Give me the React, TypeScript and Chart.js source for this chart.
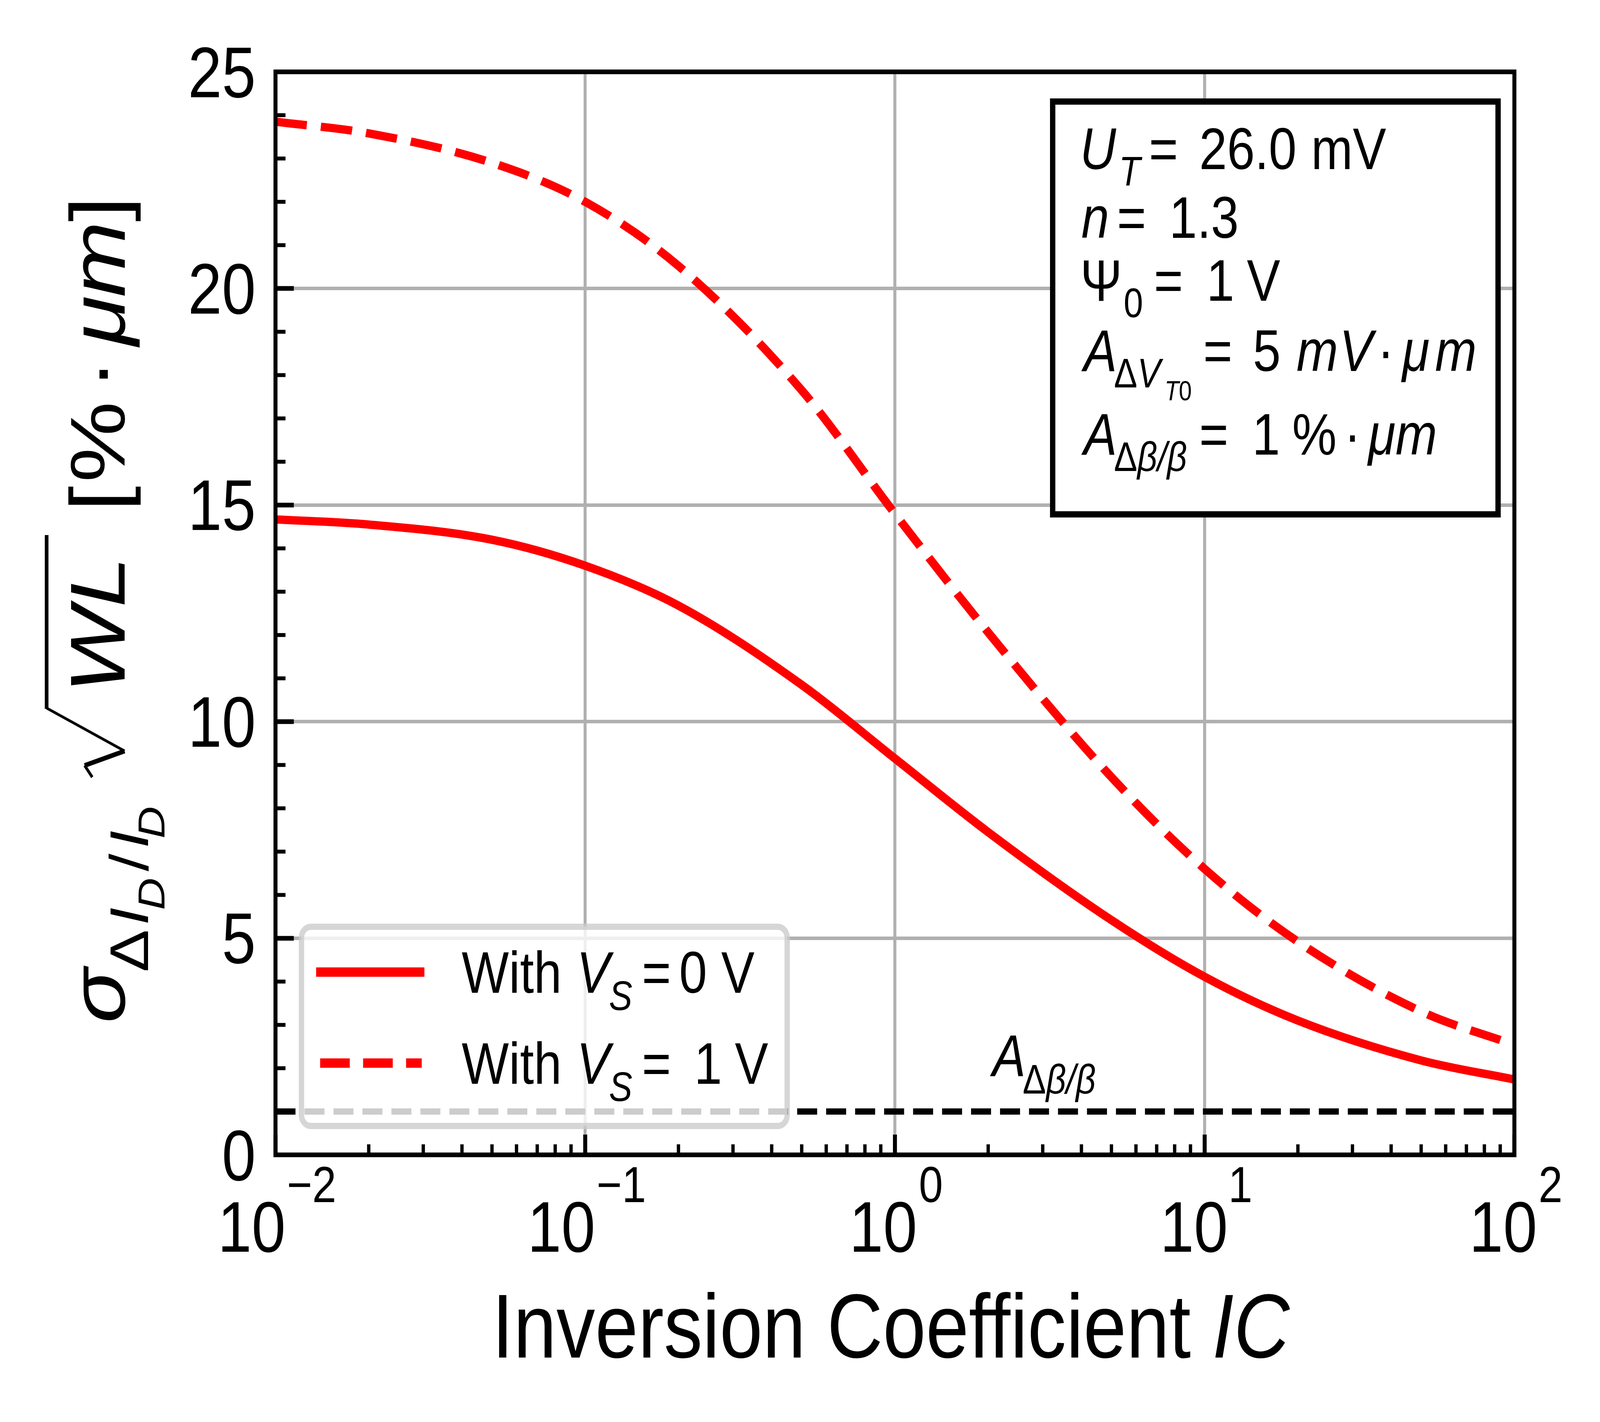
import { useEffect, useRef } from "react";
import Chart from "chart.js/auto";

// design frame (reference image size)
const W = 4803;
const H = 3641;

// inversion coefficient samples (log axis)
const icValues = [0.01, 0.02, 0.05, 0.1, 0.2, 0.5, 1, 2, 5, 10, 20, 50, 100];
// sigma(dID/ID) * sqrt(WL)  [% um]
const sigmaVs0 = [14.67, 14.55, 14.2, 13.6, 12.68, 10.85, 9.15, 7.45, 5.42, 4.11, 3.1, 2.18, 1.74];
const sigmaVs1 = [23.85, 23.58, 22.9, 22.0, 20.52, 17.65, 14.8, 12.06, 8.72, 6.6, 4.92, 3.31, 2.54];
const aBetaLevel = 1;
const xRange = [0.01, 100];
const yRange = [0, 25];
const yTickStep = 5;
const yMinorStep = 1;
const xTickExps = [-2, -1, 0, 1, 2];

const RED = "#ff0000";
const FAM = '"Liberation Sans", Arial, sans-serif';
const fnt = (size: number, italic = false) => `${italic ? "italic " : ""}${size}px ${FAM}`;

if (typeof document !== "undefined") {
  document.body.style.margin = "0";
  document.body.style.overflow = "hidden";
}

// draw text so that its ink starts at x
function ink(ctx: CanvasRenderingContext2D, text: string, x: number, y: number, size: number, italic = false) {
  ctx.font = fnt(size, italic);
  const m = ctx.measureText(text);
  ctx.fillText(text, x + m.actualBoundingBoxLeft, y);
  return x + m.actualBoundingBoxLeft + m.width;
}

// consecutive runs [text, size, italic, dy]
function runs(ctx: CanvasRenderingContext2D, x: number, y: number, parts: [string, number, boolean, number][]) {
  let cx = x;
  parts.forEach(([t, s, it, dy], i) => {
    ctx.font = fnt(s, it);
    const m = ctx.measureText(t);
    if (i === 0) cx += m.actualBoundingBoxLeft;
    ctx.fillText(t, cx, y + dy);
    cx += m.width;
  });
  return cx;
}

function seg(ctx: CanvasRenderingContext2D, x1: number, y1: number, x2: number, y2: number) {
  ctx.beginPath();
  ctx.moveTo(x1, y1);
  ctx.lineTo(x2, y2);
  ctx.stroke();
}

const makeDecor = (kx: number, ky: number) => ({
  id: "decor",
  afterDatasetsDraw(chart: any) {
    const ctx: CanvasRenderingContext2D = chart.ctx;
    const ca = chart.chartArea;
    const left = ca.left / kx;
    const right = ca.right / kx;
    const top = ca.top / ky;
    const bottom = ca.bottom / ky;
    const xs = chart.scales.x;
    const ys = chart.scales.y;
    const px = (v: number) => xs.getPixelForValue(v) / kx;
    const py = (v: number) => ys.getPixelForValue(v) / ky;
    ctx.save();
    ctx.scale(kx, ky);
    ctx.strokeStyle = "#000";
    ctx.fillStyle = "#000";
    ctx.lineCap = "butt";

    // inward ticks, left and bottom only
    for (let v = yRange[0]; v <= yRange[1]; v += yMinorStep) {
      const major = v % yTickStep === 0;
      ctx.lineWidth = major ? 12 : 10;
      seg(ctx, left, py(v), left + (major ? 55 : 30), py(v));
    }
    xTickExps.forEach((e) => {
      ctx.lineWidth = 12;
      seg(ctx, px(10 ** e), bottom, px(10 ** e), bottom - 52);
      if (e < xTickExps[xTickExps.length - 1]) {
        for (let m = 2; m <= 9; m++) {
          ctx.lineWidth = 10;
          seg(ctx, px(m * 10 ** e), bottom, px(m * 10 ** e), bottom - 27);
        }
      }
    });

    // spines
    ctx.lineWidth = 12;
    ctx.strokeRect(left, top, right - left, bottom - top);

    // y tick labels
    ctx.textAlign = "left";
    ctx.textBaseline = "alphabetic";
    for (let v = yRange[0]; v <= yRange[1]; v += yTickStep) {
      ctx.font = fnt(183);
      const t = String(v);
      const m = ctx.measureText(t);
      ctx.fillText(t, 761 - m.actualBoundingBoxRight, py(v) + m.actualBoundingBoxAscent / 2);
    }

    // x tick labels 10^e
    xTickExps.forEach((e) => {
      const sup = e < 0 ? "\u2212" + Math.abs(e) : String(e);
      ctx.font = fnt(183);
      const mb = ctx.measureText("10");
      const wb = mb.actualBoundingBoxLeft + mb.actualBoundingBoxRight;
      ctx.font = fnt(130);
      const ms = ctx.measureText(sup);
      const ws = ms.actualBoundingBoxLeft + ms.actualBoundingBoxRight;
      const x0 = px(10 ** e) + 8 - (wb + 17 + ws) / 2;
      ink(ctx, "10", x0, 3205, 183);
      ink(ctx, sup, x0 + wb + 17, 3078, 130);
    });

    // x axis title
    runs(ctx, 1498, 3476, [
      ["Inversion Coefficient ", 232, false, 0],
      ["IC", 232, true, 0],
    ]);

    // y axis title (rotated)
    ctx.save();
    ctx.translate(374, 2613);
    ctx.rotate(-Math.PI / 2);
    ink(ctx, "\u03c3", 0, 0, 233, true);
    ink(ctx, "\u0394", 128, 70, 163);
    ink(ctx, "I", 250, 70, 163, true);
    ink(ctx, "D", 286, 120, 114, true);
    ink(ctx, "/", 382, 70, 163);
    ink(ctx, "I", 447, 70, 163, true);
    ink(ctx, "D", 469, 120, 114, true);
    ctx.lineWidth = 8;
    seg(ctx, 623, -97, 653, -120);
    ctx.lineWidth = 12;
    seg(ctx, 653, -120, 690, 0);
    ctx.lineWidth = 7;
    seg(ctx, 690, 0, 800, -234);
    ctx.lineWidth = 11;
    seg(ctx, 798, -234, 1243, -234);
    ink(ctx, "WL", 858, 0, 233, true);
    ink(ctx, "[", 1320, 0, 233);
    ink(ctx, "%", 1386, 0, 233);
    ink(ctx, "\u00b7", 1643, 0, 233);
    ink(ctx, "\u03bc", 1723, 0, 233, true);
    ink(ctx, "m", 1855, 0, 233, true);
    ink(ctx, "]", 2046, 0, 233);
    ctx.restore();

    // parameter box
    ctx.fillStyle = "#fff";
    ctx.fillRect(3160, 260, 4497 - 3160, 1317 - 260);
    ctx.lineWidth = 16;
    ctx.strokeStyle = "#000";
    ctx.strokeRect(3160, 260, 4497 - 3160, 1317 - 260);
    ctx.fillStyle = "#000";
    ink(ctx, "U", 3253, 433, 150, true);
    ink(ctx, "T", 3368, 475, 105, true);
    ink(ctx, "=", 3456, 433, 150);
    ink(ctx, "26.0", 3607, 433, 150);
    ink(ctx, "mV", 3945, 433, 150);

    ink(ctx, "n", 3248, 609, 150, true);
    ink(ctx, "=", 3360, 609, 150);
    ink(ctx, "1.3", 3521, 609, 150);

    ink(ctx, "\u03a8", 3253, 770, 150);
    ink(ctx, "0", 3377, 812, 105);
    ink(ctx, "=", 3471, 770, 150);
    ink(ctx, "1", 3633, 770, 150);
    ink(ctx, "V", 3743, 770, 150);

    ink(ctx, "A", 3245, 950, 150, true);
    runs(ctx, 3347, 992, [
      ["\u0394", 105, false, 0],
      ["V", 105, true, 0],
    ]);
    runs(ctx, 3502, 1025, [
      ["T", 70, true, 0],
      ["0", 70, false, 0],
    ]);
    ink(ctx, "=", 3619, 950, 150);
    ink(ctx, "5", 3767, 950, 150);
    ink(ctx, "m", 3894, 950, 150, true);
    ink(ctx, "V", 4033, 950, 150, true);
    ink(ctx, "\u00b7", 4152, 950, 150);
    ink(ctx, "\u03bc", 4205, 950, 150, true);
    ink(ctx, "m", 4310, 950, 150, true);

    ink(ctx, "A", 3245, 1164, 150, true);
    runs(ctx, 3347, 1206, [
      ["\u0394", 105, false, 0],
      ["\u03b2/\u03b2", 105, true, 0],
    ]);
    ink(ctx, "=", 3607, 1164, 150);
    ink(ctx, "1", 3770, 1164, 150);
    ink(ctx, "%", 3884, 1164, 150);
    ink(ctx, "\u00b7", 4052, 1164, 150);
    ink(ctx, "\u03bcm", 4103, 1164, 150, true);

    // A_dB/B label above the reference line
    ink(ctx, "A", 2971, 2755, 150, true);
    runs(ctx, 3073, 2800, [
      ["\u0394", 105, false, 0],
      ["\u03b2/\u03b2", 105, true, 0],
    ]);

    // legend
    ctx.beginPath();
    ctx.roundRect(905, 2373, 2363 - 905, 2883 - 2373, 28);
    ctx.fillStyle = "rgba(255,255,255,0.8)";
    ctx.fill();
    ctx.lineWidth = 16;
    ctx.strokeStyle = "rgba(204,204,204,0.8)";
    ctx.stroke();

    ctx.strokeStyle = RED;
    ctx.lineWidth = 24;
    seg(ctx, 949, 2489, 1274, 2489);
    ctx.setLineDash([89, 40]);
    seg(ctx, 961, 2722, 1266, 2722);
    ctx.setLineDash([]);

    ctx.fillStyle = "#000";
    ink(ctx, "With", 1386, 2542, 150);
    ink(ctx, "V", 1743, 2542, 150, true);
    ink(ctx, "S", 1830, 2586, 105, true);
    ink(ctx, "=", 1934, 2542, 150);
    ink(ctx, "0", 2044, 2542, 150);
    ink(ctx, "V", 2165, 2542, 150);

    ink(ctx, "With", 1386, 2775, 150);
    ink(ctx, "V", 1743, 2775, 150, true);
    ink(ctx, "S", 1830, 2819, 105, true);
    ink(ctx, "=", 1934, 2775, 150);
    ink(ctx, "1", 2095, 2775, 150);
    ink(ctx, "V", 2206, 2775, 150);

    ctx.restore();
  },
});

const App = () => {
  const canvasRef = useRef<HTMLCanvasElement | null>(null);
  // fill the viewport; the design is laid out in the 4803x3641 reference frame
  const cw = Math.floor(window.innerWidth);
  const ch = Math.floor(window.innerHeight);
  const kx = cw / W;
  const ky = ch / H;
  const k = (kx + ky) / 2;

  useEffect(() => {
    const ctx = canvasRef.current?.getContext("2d");
    if (!ctx) return;

    const toPts = (ys: number[]) => icValues.map((x, i) => ({ x, y: ys[i] }));

    const chart = new Chart(ctx, {
      type: "line",
      data: {
        datasets: [
          {
            label: "With VS = 0 V",
            data: toPts(sigmaVs0),
            borderColor: RED,
            borderWidth: 23 * k,
            pointRadius: 0,
            cubicInterpolationMode: "monotone",
          },
          {
            label: "With VS = 1 V",
            data: toPts(sigmaVs1),
            borderColor: RED,
            borderWidth: 23 * k,
            borderDash: [87 * k, 39 * k],
            pointRadius: 0,
            cubicInterpolationMode: "monotone",
          },
          {
            label: "A_dB/B",
            data: xRange.map((x) => ({ x, y: aBetaLevel })),
            borderColor: "#000",
            borderWidth: 16 * ky,
            borderDash: [60 * kx, 27 * kx],
            pointRadius: 0,
          },
        ],
      },
      options: {
        responsive: false,
        maintainAspectRatio: false,
        animation: false,
        layout: { padding: { left: 0, top: 184 * ky, right: (W - 4546) * kx, bottom: 0 } },
        plugins: { legend: { display: false }, tooltip: { enabled: false } },
        scales: {
          x: {
            type: "logarithmic",
            min: xRange[0],
            max: xRange[1],
            afterBuildTicks: (s: any) => {
              s.ticks = xTickExps.map((e) => ({ value: 10 ** e }));
            },
            afterFit: (s: any) => {
              s.height = (H - 2957) * ky;
            },
            ticks: { display: false },
            grid: { color: "#b0b0b0", lineWidth: 9 * kx, drawTicks: false },
            border: { display: false },
          },
          y: {
            min: yRange[0],
            max: yRange[1],
            ticks: { display: false, stepSize: yTickStep },
            afterFit: (s: any) => {
              s.width = 827 * kx;
            },
            grid: { color: "#b0b0b0", lineWidth: 9 * ky, drawTicks: false },
            border: { display: false },
          },
        },
      },
      plugins: [makeDecor(kx, ky)],
    });

    return () => {
      chart.destroy();
    };
  }, [kx, ky, k]);

  return (
    <div style={{ width: cw, height: ch, background: "#fff" }}>
      <canvas ref={canvasRef} width={cw} height={ch} style={{ display: "block", width: cw, height: ch }}></canvas>
    </div>
  );
};

export default App;
